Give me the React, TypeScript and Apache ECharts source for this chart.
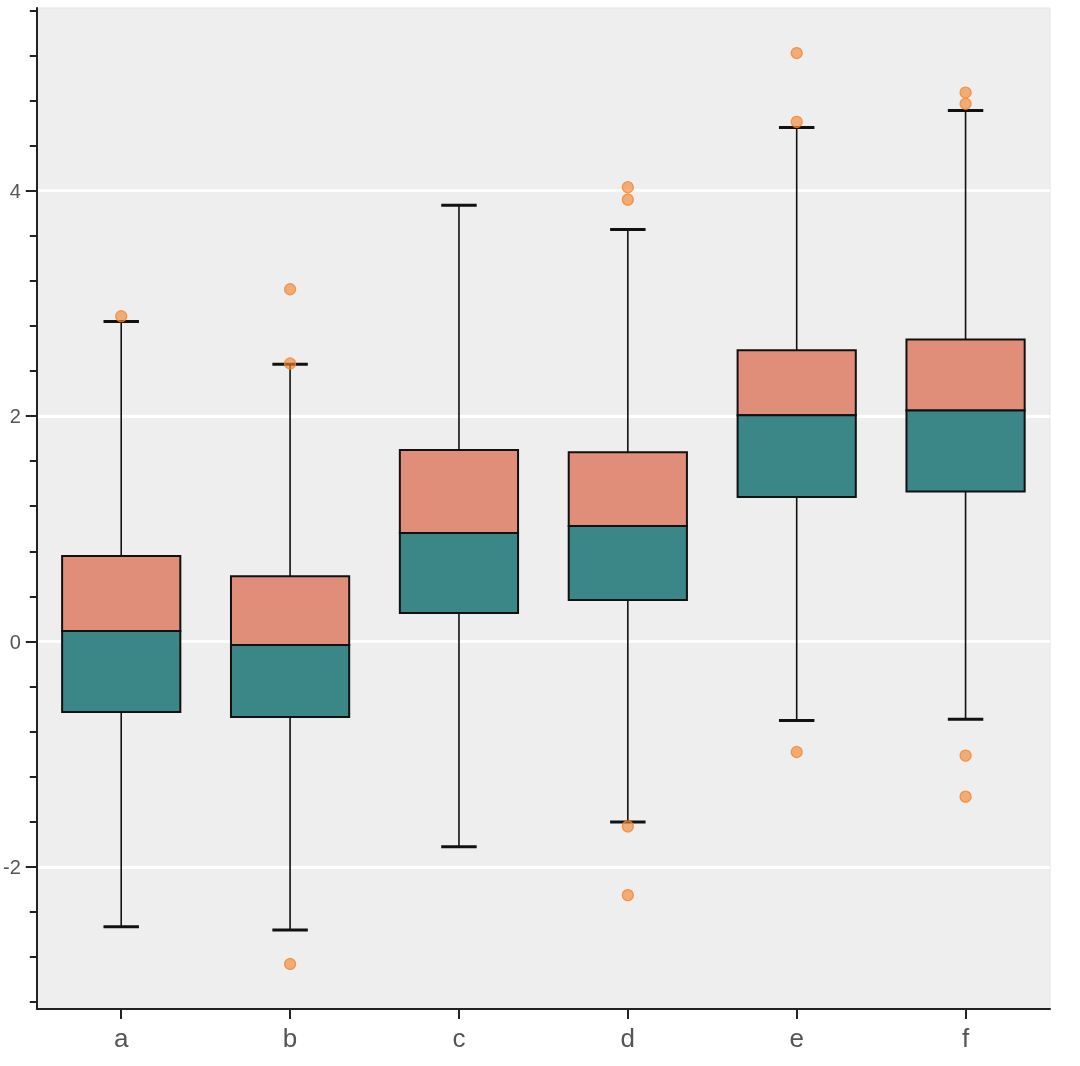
import React, { useEffect, useRef } from "react";
import * as echarts from "echarts";

const categories = ["a", "b", "c", "d", "e", "f"];
const lowerWhisker = [-2.53, -2.56, -1.82, -1.6, -0.7, -0.69];
const q1 = [-0.625, -0.67, 0.253, 0.368, 1.281, 1.33];
const median = [0.093, -0.031, 0.962, 1.024, 2.008, 2.05];
const q3 = [0.758, 0.58, 1.7, 1.68, 2.584, 2.68];
const upperWhisker = [2.84, 2.46, 3.87, 3.655, 4.56, 4.71];
const outlierCats = ["a", "b", "b", "b", "d", "d", "d", "d", "e", "e", "e", "f", "f", "f", "f"];
const outlierVals = [2.886, 3.125, 2.466, -2.86, 4.03, 3.92, -1.64, -2.25, 5.22, 4.61, -0.98, 4.87, 4.77, -1.012, -1.376];
const majorTicks = [-2, 0, 2, 4];
const minorTicks = [-3.2, -2.8, -2.4, -1.6, -1.2, -0.8, -0.4, 0.4, 0.8, 1.2, 1.6, 2.4, 2.8, 3.2, 3.6, 4.4, 4.8, 5.2, 5.6];
const yMin = -3.26;
const yMax = 5.62;

export default function App() {
  const ref = useRef<HTMLDivElement>(null);
  useEffect(() => {
    if (!ref.current) return;
    const chart = echarts.init(ref.current, null, { renderer: "svg" });
    const boxData = categories.map((c, i) => [i, lowerWhisker[i], q1[i], median[i], q3[i], upperWhisker[i]]);
    const outData = outlierCats.map((c, i) => [categories.indexOf(c), outlierVals[i]]);
    const font = "'Liberation Sans', Arial, Helvetica, sans-serif";
    chart.setOption({
      animation: false,
      grid: {
        left: 34,
        right: 30,
        top: 8,
        bottom: 57,
        show: true,
        backgroundColor: "#eeeeee",
        borderColor: "#e4e4e4",
        borderWidth: 1,
      },
      xAxis: {
        type: "category",
        data: categories,
        axisLine: { onZero: false, lineStyle: { color: "#222", width: 2 } },
        axisTick: { show: true, alignWithLabel: true, length: 10, lineStyle: { color: "#222", width: 2 } },
        axisLabel: { fontSize: 26, color: "#555", margin: 16, fontFamily: font },
        splitLine: { show: false },
      },
      yAxis: [
        {
          type: "value",
          min: yMin,
          max: yMax,
          axisLine: { show: true, onZero: false, lineStyle: { color: "#222", width: 2 } },
          axisTick: { show: true, length: 11, customValues: majorTicks, lineStyle: { color: "#222", width: 2 } },
          axisLabel: { customValues: majorTicks, fontSize: 20, color: "#555", margin: 16, fontFamily: font },
          splitLine: { show: true, lineStyle: { color: "#ffffff", width: 3 } },
        },
        {
          type: "value",
          min: yMin,
          max: yMax,
          position: "left",
          axisLine: { show: false, onZero: false },
          axisTick: { show: true, length: 7, customValues: minorTicks, lineStyle: { color: "#222", width: 2 } },
          axisLabel: { show: false },
          splitLine: { show: false },
        },
      ],
      series: [
        {
          type: "custom",
          data: boxData,
          encode: { x: 0, y: [1, 2, 3, 4, 5] },
          renderItem: (params: any, api: any) => {
            const idx = api.value(0);
            const lo = api.coord([idx, api.value(1)]);
            const p1 = api.coord([idx, api.value(2)]);
            const pm = api.coord([idx, api.value(3)]);
            const p3 = api.coord([idx, api.value(4)]);
            const hi = api.coord([idx, api.value(5)]);
            const bw = api.size([1, 0])[0];
            const boxW = bw * 0.7;
            const capW = bw * 0.21;
            const x = lo[0];
            return {
              type: "group",
              children: [
                { type: "line", shape: { x1: x, y1: hi[1], x2: x, y2: p3[1] }, style: { stroke: "#111", lineWidth: 1.6 } },
                { type: "line", shape: { x1: x, y1: p1[1], x2: x, y2: lo[1] }, style: { stroke: "#111", lineWidth: 1.6 } },
                { type: "line", shape: { x1: x - capW / 2, y1: hi[1], x2: x + capW / 2, y2: hi[1] }, style: { stroke: "#111", lineWidth: 3 } },
                { type: "line", shape: { x1: x - capW / 2, y1: lo[1], x2: x + capW / 2, y2: lo[1] }, style: { stroke: "#111", lineWidth: 3 } },
                { type: "rect", shape: { x: x - boxW / 2, y: p3[1], width: boxW, height: pm[1] - p3[1] }, style: { fill: "#E08E79", stroke: "#111", lineWidth: 2 } },
                { type: "rect", shape: { x: x - boxW / 2, y: pm[1], width: boxW, height: p1[1] - pm[1] }, style: { fill: "#3B8686", stroke: "#111", lineWidth: 2 } },
              ],
            };
          },
          z: 2,
        },
        {
          type: "scatter",
          data: outData,
          symbol: "circle",
          symbolSize: 11,
          itemStyle: { color: "rgba(243,134,48,0.8)", borderColor: "#F38630", borderWidth: 1.2 },
          z: 3,
        },
      ],
    });
    return () => chart.dispose();
  }, []);
  return <div ref={ref} style={{ position: "fixed", left: 0, top: 0, width: 1080, height: 1066 }} />;
}
